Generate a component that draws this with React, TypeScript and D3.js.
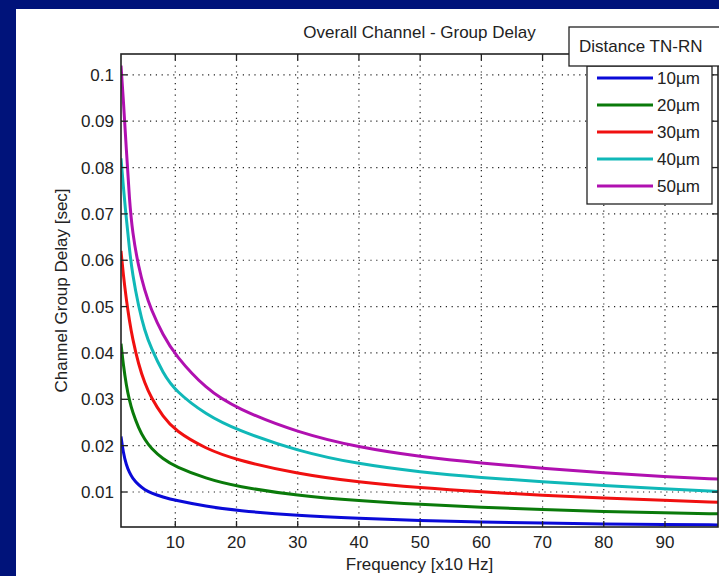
import React from "react";
import * as d3 from "d3";

const freqs = [1.13, 1.5, 2, 2.5, 3, 4, 5, 6, 8, 10, 15, 20, 30, 40, 50, 60, 70, 80, 90, 98.66];
const delay10 = [0.022, 0.0185, 0.0158, 0.0142, 0.013, 0.0115, 0.0105, 0.0098, 0.0089, 0.0082, 0.0069, 0.006, 0.0049, 0.0043, 0.0038, 0.0035, 0.0033, 0.0031, 0.003, 0.0029];
const delay20 = [0.042, 0.0375, 0.033, 0.0298, 0.0273, 0.0238, 0.0213, 0.0195, 0.0171, 0.0155, 0.0129, 0.0112, 0.0092, 0.0081, 0.0073, 0.0067, 0.0062, 0.0058, 0.0055, 0.0053];
const delay30 = [0.062, 0.057, 0.0515, 0.047, 0.0432, 0.0375, 0.0335, 0.0305, 0.0262, 0.0232, 0.0193, 0.0169, 0.0139, 0.0121, 0.0109, 0.01, 0.0093, 0.0087, 0.0082, 0.0078];
const delay40 = [0.082, 0.076, 0.069, 0.0625, 0.057, 0.05, 0.0448, 0.0412, 0.0356, 0.0318, 0.0267, 0.0234, 0.0188, 0.016, 0.0143, 0.0131, 0.0122, 0.0114, 0.0107, 0.0101];
const delay50 = [0.102, 0.095, 0.084, 0.073, 0.066, 0.0585, 0.0535, 0.0495, 0.0438, 0.0395, 0.0322, 0.028, 0.0228, 0.0196, 0.0176, 0.0162, 0.0151, 0.0141, 0.0133, 0.0128];

const seriesNames = ["10\u00b5m", "20\u00b5m", "30\u00b5m", "40\u00b5m", "50\u00b5m"];
const seriesValues = [delay10, delay20, delay30, delay40, delay50];
const seriesColors = ["#0a0ad8", "#0a7a0a", "#f01010", "#10b8b8", "#b010b0"];

const xTicks = [10, 20, 30, 40, 50, 60, 70, 80, 90];
const yTicks = [0.01, 0.02, 0.03, 0.04, 0.05, 0.06, 0.07, 0.08, 0.09, 0.1];
const yTickLabels = ["0.01", "0.02", "0.03", "0.04", "0.05", "0.06", "0.07", "0.08", "0.09", "0.1"];

const title = "Overall Channel - Group Delay";
const xLabel = "Frequency [x10 Hz]";
const yLabel = "Channel Group Delay [sec]";
const legendTitle = "Distance TN-RN";

const W = 719;
const H = 576;
const L = 121, R = 718, T = 54, B = 527;
const FONT = "'Liberation Sans', Arial, sans-serif";

export default function App() {
  const x = d3.scaleLinear().domain([1.13, 98.66]).range([L, R]);
  const y = d3.scaleLinear().domain([0.00245, 0.1045]).range([B, T]);
  const line = d3
    .line<number>()
    .x((_, i) => x(freqs[i]))
    .y((d) => y(d))
    .curve(d3.curveBasis);

  const grid = "#222";
  const legX0 = 587, legX1 = 712, legY0 = 66, legY1 = 204;
  const entryY = (i: number) => 78 + i * 27;

  return (
    <svg
      width={W}
      height={H}
      style={{ position: "absolute", left: 0, top: 0, display: "block" }}
      fontFamily={FONT}
    >
      <defs>
        <clipPath id="plotclip">
          <rect x={L} y={T} width={R - L} height={B - T} />
        </clipPath>
      </defs>
      <rect x={0} y={0} width={W} height={H} fill="#00137a" />
      <rect x={16} y={9} width={W - 16} height={H - 9} fill="#ffffff" />
      <rect x={L} y={T} width={R - L} height={B - T} fill="#ffffff" />

      {xTicks.map((t) => (
        <line key={"gx" + t} x1={x(t)} x2={x(t)} y1={T} y2={B} stroke={grid} strokeWidth={1.2} strokeDasharray="1.2,4.6" />
      ))}
      {yTicks.map((t) => (
        <line key={"gy" + t} x1={L} x2={R} y1={y(t)} y2={y(t)} stroke={grid} strokeWidth={1.2} strokeDasharray="1.2,4.6" />
      ))}

      <g clipPath="url(#plotclip)">
        {seriesValues.map((vals, i) => (
          <path key={"s" + i} d={line(vals) || ""} fill="none" stroke={seriesColors[i]} strokeWidth={3} strokeLinejoin="round" />
        ))}
      </g>

      {xTicks.map((t) => (
        <g key={"tx" + t}>
          <line x1={x(t)} x2={x(t)} y1={B} y2={B - 6} stroke="#222" strokeWidth={1.3} />
          <line x1={x(t)} x2={x(t)} y1={T} y2={T + 6} stroke="#222" strokeWidth={1.3} />
        </g>
      ))}
      {yTicks.map((t) => (
        <g key={"ty" + t}>
          <line x1={L} x2={L + 6} y1={y(t)} y2={y(t)} stroke="#222" strokeWidth={1.3} />
          <line x1={R} x2={R - 6} y1={y(t)} y2={y(t)} stroke="#222" strokeWidth={1.3} />
        </g>
      ))}

      <rect x={L} y={T} width={R - L} height={B - T} fill="none" stroke="#222" strokeWidth={1.6} />

      {xTicks.map((t) => (
        <text key={"lx" + t} x={x(t)} y={548} textAnchor="middle" fontSize={17} fill="#222">
          {String(t)}
        </text>
      ))}
      {yTicks.map((t, i) => (
        <text key={"ly" + t} x={114} y={y(t) + 6} textAnchor="end" fontSize={17} fill="#222">
          {yTickLabels[i]}
        </text>
      ))}

      <text x={(L + R) / 2} y={38} textAnchor="middle" fontSize={17} fill="#222">
        {title}
      </text>
      <text x={(L + R) / 2} y={570} textAnchor="middle" fontSize={17} fill="#222">
        {xLabel}
      </text>
      <text
        transform={`translate(67,${(T + B) / 2}) rotate(-90)`}
        textAnchor="middle"
        fontSize={17}
        fill="#222"
      >
        {yLabel}
      </text>

      <rect x={legX0} y={legY0} width={legX1 - legX0} height={legY1 - legY0} fill="#ffffff" stroke="#222" strokeWidth={1.3} />
      {seriesNames.map((name, i) => (
        <g key={"lg" + i}>
          <line x1={597} x2={653} y1={entryY(i)} y2={entryY(i)} stroke={seriesColors[i]} strokeWidth={3} />
          <text x={657} y={entryY(i) + 6} fontSize={17} fill="#222">
            {name}
          </text>
        </g>
      ))}
      <rect x={569} y={27} width={152} height={39} fill="#ffffff" stroke="#222" strokeWidth={1.3} />
      <text x={579} y={52} fontSize={17} fill="#222">
        {legendTitle}
      </text>
    </svg>
  );
}
